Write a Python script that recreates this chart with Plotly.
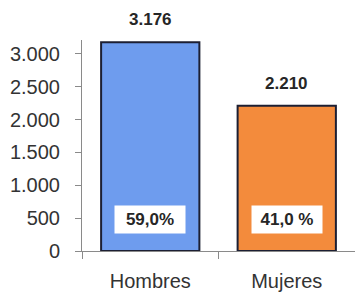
import plotly.graph_objects as go

categories = ["Hombres", "Mujeres"]
values = [3176, 2210]
value_labels = ["3.176", "2.210"]
pct_labels = ["59,0%", "41,0 %"]
bar_colors = ["#6E9CEE", "#F38B3C"]
y_ticks = [0, 500, 1000, 1500, 2000, 2500, 3000]
y_tick_labels = ["0", "500", "1.000", "1.500", "2.000", "2.500", "3.000"]
pct_label_y = 480

FONT = "Liberation Sans, Arial, sans-serif"

fig = go.Figure()
fig.add_trace(go.Bar(
    x=categories, y=values,
    marker=dict(color=bar_colors, line=dict(color="#1c1f33", width=2)),
    width=0.72,
    hoverinfo="skip",
))

annotations = []
for c, v, lab in zip(categories, values, value_labels):
    annotations.append(dict(
        x=c, y=v, xref="x", yref="y", text="<b>%s</b>" % lab,
        showarrow=False, yanchor="bottom", yshift=11,
        font=dict(family=FONT, size=17, color="#262626"),
    ))
for c, lab in zip(categories, pct_labels):
    annotations.append(dict(
        x=c, y=pct_label_y, xref="x", yref="y", text="<b>%s</b>" % lab,
        showarrow=False, bgcolor="white", width=70, height=27, borderpad=0,
        font=dict(family=FONT, size=17, color="#262626"),
    ))

fig.update_layout(
    width=355, height=293,
    margin=dict(l=82, r=0, t=40, b=42),
    paper_bgcolor="white", plot_bgcolor="white",
    showlegend=False,
    annotations=annotations,
    xaxis=dict(
        tickson="boundaries", ticks="outside", ticklen=7, tickcolor="#8a8a8a",
        showline=True, linecolor="#8a8a8a", linewidth=1,
        tickfont=dict(family=FONT, size=20, color="#333333"),
        ticklabelstandoff=12,
        showgrid=False, zeroline=False, automargin=False,
    ),
    yaxis=dict(
        range=[0, 3210], tickvals=y_ticks, ticktext=y_tick_labels,
        ticks="outside", ticklen=6, tickcolor="#8a8a8a",
        showline=True, linecolor="#8a8a8a", linewidth=1,
        tickfont=dict(family=FONT, size=20, color="#333333"),
        ticklabelstandoff=11,
        showgrid=False, zeroline=False, automargin=False,
    ),
)

fig.write_html(
    "out.html",
    config={"displayModeBar": False, "staticPlot": True},
    post_script="document.body.style.margin='0';document.body.style.overflow='hidden';",
)
